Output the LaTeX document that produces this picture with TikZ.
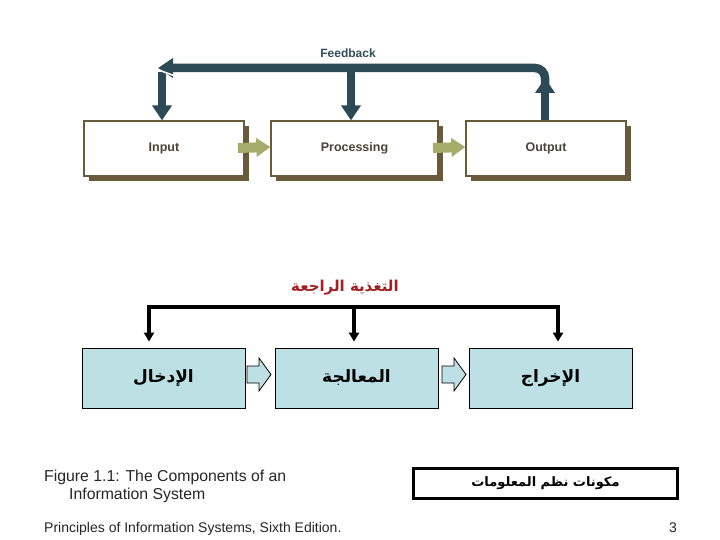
\documentclass[tikz,border=0pt]{standalone}
\usepackage{fontspec}
\setmainfont{Liberation Sans}
\newfontfamily\arabicfont[Script=Arabic]{DejaVu Sans}
\TeXXeTstate=1
\usetikzlibrary{arrows.meta,shadows}
\definecolor{fbteal}{HTML}{2C4A56}
\definecolor{shadowbrown}{HTML}{685A3A}
\definecolor{labelgray}{HTML}{4A4438}
\definecolor{arrowgreen}{HTML}{A3AD69}
\definecolor{lightblue}{HTML}{BDE0E5}
\definecolor{titlered}{HTML}{A51E22}
\tikzset{
  topbox/.style={draw=shadowbrown, line width=1.2pt, fill=white, minimum height=55pt,
    font=\fontsize{12.5}{14}\selectfont\bfseries, text=labelgray,
    drop shadow={shadow xshift=5pt, shadow yshift=-5pt, fill=shadowbrown, opacity=1}},
  fbline/.style={draw=fbteal, line width=8.5pt},
  fbtip/.style={-{Triangle[width=19pt,length=15pt]}},
  greenarrow/.style={draw=arrowgreen, line width=10pt, -{Triangle[width=18pt,length=14pt]}},
  botbox/.style={draw=black, line width=0.8pt, fill=lightblue, minimum width=163pt, minimum height=60pt,
    font=\fontsize{17}{20}\arabicfont\bfseries},
  blkline/.style={draw=black, line width=4pt},
  blkboth/.style={{Triangle[width=10pt,length=9pt]}-{Triangle[width=10pt,length=9pt]}},
  blkend/.style={-{Triangle[width=10pt,length=9pt]}},
  hollow/.style={draw=black, line width=0.8pt, fill=lightblue, line join=miter},
  engtext/.style={inner sep=0pt, font=\fontsize{15.8}{18}\selectfont, text=black!85},
}
\begin{document}
\begin{tikzpicture}[x=1pt,y=-1pt]
\useasboundingbox (0,0) rectangle (720,540);
\fill[white] (0,0) rectangle (720,540);

% ---------- top diagram ----------
\node[topbox, minimum width=160pt] (inT) at (164,148.5) {Input};
\node[topbox, minimum width=167pt] (prT) at (354.5,148.5) {Processing};
\node[topbox, minimum width=160pt] (ouT) at (546,148.5) {Output};

\node[font=\fontsize{12}{14}\selectfont\bfseries, text=fbteal!90!gray] (fbT) at (348,53) {Feedback};

\coordinate (barR) at (545,68);
\coordinate (barL) at (158,68);
\draw[fbline, fbtip, rounded corners=10pt] (545,92) -- (barR) -- (barL);
\draw[fbline, fbtip] (162,72) -- (inT.north -| 162,0);
\draw[white, line width=1.6pt] (156,69) -- (175,76);
\draw[fbline, fbtip] (351,72) -- (prT.north -| 351,0);
\draw[fbline, fbtip] (ouT.north -| 545,0) -- (545,78);

\draw[greenarrow] (238,148) -- (prT.west |- 0,147);
\draw[greenarrow] (433,148) -- (ouT.west |- 0,147);

% ---------- bottom diagram ----------
\node[font=\fontsize{15}{18}\arabicfont\bfseries, text=titlered] (fbB) at (345,288) {\beginR التغذية الراجعة\endR};

\node[botbox] (inB) at (163.5,378) {\beginR الإدخال\endR};
\node[botbox] (prB) at (356.5,378) {\beginR المعالجة\endR};
\node[botbox] (ouB) at (550.5,378) {\beginR الإخراج\endR};

\draw[blkline, blkboth, line join=miter] ([yshift=6pt]inB.north -| 149,0) |- (558,307) -- ([yshift=6pt]ouB.north -| 558,0);
\draw[blkline, blkend] (354,307) -- ([yshift=6pt]prB.north -| 354,0);

\draw[hollow] (247,366) -- (259,366) -- (259,358) -- (271,374.5) -- (259,391) -- (259,383) -- (247,383) -- cycle;
\draw[hollow] (442,366) -- (454,366) -- (454,358) -- (466,374.5) -- (454,391) -- (454,383) -- (442,383) -- cycle;

% ---------- captions ----------
\node[engtext, anchor=base west] (cap1) at (44,481) {Figure 1.1: The Components of an};
\node[engtext, anchor=base west] (cap2) at (69,499) {Information System};
\node[engtext, anchor=base west, font=\fontsize{14}{16}\selectfont] (foot) at (44,532) {Principles of Information Systems, Sixth Edition.};
\node[engtext, anchor=base east, font=\fontsize{14}{16}\selectfont] (pg) at (677,532) {3};

\node[draw=black, line width=3pt, minimum width=264pt, minimum height=30pt,
  font=\fontsize{13}{16}\arabicfont\bfseries] (title) at (545.5,483.5) {\beginR مكونات نظم المعلومات\endR};
\end{tikzpicture}
\end{document}
